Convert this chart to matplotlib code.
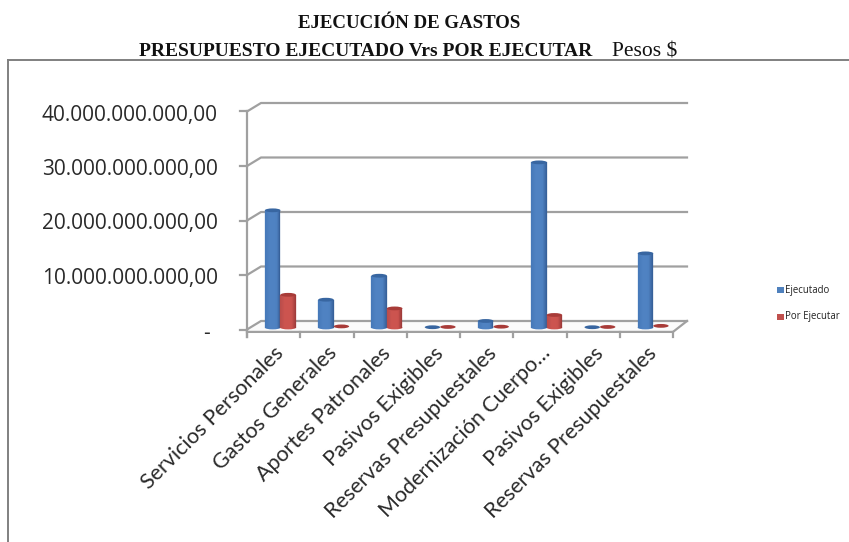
import matplotlib
matplotlib.use('Agg')
import matplotlib.pyplot as plt
from matplotlib.patches import Ellipse, Rectangle, Polygon
import numpy as np

categorias = ['Servicios Personales', 'Gastos Generales', 'Aportes Patronales',
              'Pasivos Exigibles', 'Reservas Presupuestales',
              'Modernización Cuerpo…', 'Pasivos Exigibles', 'Reservas Presupuestales']
ejecutado = [21.5e9, 5.1e9, 9.5e9, 0.05e9, 1.2e9, 30.3e9, 0.05e9, 13.6e9]
por_ejecutar = [6.0e9, 0.2e9, 3.5e9, 0.1e9, 0.15e9, 2.3e9, 0.1e9, 0.3e9]
ticks_y = [0, 10e9, 20e9, 30e9, 40e9]
labels_y = ['-', '10.000.000.000,00', '20.000.000.000,00', '30.000.000.000,00', '40.000.000.000,00']

W, H = 849, 542
GRIS = '#a0a0a0'

fig = plt.figure(figsize=(W / 100, H / 100), dpi=100)


def px(x, y):
    return x / W, 1 - y / H


# marco exterior del grafico
fig.add_artist(plt.Line2D([8 / W, 8 / W], [0, px(0, 60)[1]], color='#808080', lw=1.4))
fig.add_artist(plt.Line2D([8 / W, 1], [px(0, 60)[1]] * 2, color='#808080', lw=1.4))

# titulos
fig.text(409 / W, px(0, 24)[1], 'EJECUCIÓN DE GASTOS', family='Liberation Serif', weight='bold',
         fontsize=13.6, color='#111111', ha='center', va='center')
fig.text(139 / W, px(0, 52)[1], 'PRESUPUESTO EJECUTADO Vrs POR EJECUTAR', family='Liberation Serif',
         weight='bold', fontsize=14, color='#111111', ha='left', va='center')
fig.text(612 / W, px(0, 52)[1], 'Pesos $', family='Liberation Serif', fontsize=15.5,
         color='#111111', ha='left', va='center')

# ejes: la cara frontal va de x=247 a 673 y de y=329.5 a 111.5 (pixeles)
ax = fig.add_axes([247 / W, 1 - 329.5 / H, (673 - 247) / W, 218 / H])
ax.set_xlim(0, 8)
ax.set_ylim(0, 40e9)
ax.axis('off')

dx = 14 / 53.25
dy = 1.56e9
un_px_x = 8 / 426
un_px_y = 40e9 / 218

# pared del fondo y piso
for t in ticks_y:
    ax.plot([0, dx, 8 + dx], [t, t + dy, t + dy], color=GRIS, lw=1.6, clip_on=False, zorder=1)
    ax.plot([-7 * un_px_x, 0], [t, t], color=GRIS, lw=1.6, clip_on=False, zorder=1)
ax.plot([0, 0], [-7 * un_px_y, 40e9], color=GRIS, lw=1.6, clip_on=False, zorder=1)
piso = -2.4 * un_px_y
ax.add_patch(Polygon([(0, piso), (dx, dy), (8 + dx, dy), (8, piso)], closed=True,
                     facecolor='#fbfbfb', edgecolor='none', zorder=0.5, clip_on=False))
ax.plot([0, 8, 8 + dx], [piso, piso, dy], color=GRIS, lw=1.6, clip_on=False, zorder=1)
for i in range(9):
    ax.plot([i, i], [piso, piso - 5 * un_px_y], color=GRIS, lw=1.6, clip_on=False, zorder=1)


def cilindro(x0, ancho, valor, oscuro, medio, claro, tapa):
    base = 2 * un_px_y
    h_elip = 3.8 * un_px_y
    if valor > 0.5e9:
        # franjas verticales para el sombreado del cilindro
        n = 16
        xs = np.linspace(x0, x0 + ancho, n + 1)
        for k in range(n):
            f = (k + 0.5) / n
            if f < 0.3:
                c = np.array(medio) + (np.array(claro) - np.array(medio)) * f / 0.3
            elif f < 0.7:
                c = np.array(claro)
            else:
                c = np.array(claro) + (np.array(oscuro) - np.array(claro)) * ((f - 0.7) / 0.3) ** 1.3
            ax.add_patch(Rectangle((xs[k], base), ancho / n, valor, facecolor=c, edgecolor=c,
                                   lw=0.2, zorder=3, clip_on=False))
        ax.add_patch(Ellipse((x0 + ancho / 2, base), ancho, h_elip, facecolor=claro, edgecolor='none',
                             zorder=2.9, clip_on=False))
    ax.add_patch(Ellipse((x0 + ancho / 2, base + valor), ancho, h_elip, facecolor=tapa, edgecolor='none',
                         zorder=4, clip_on=False))


azul = [(0.27, 0.47, 0.72), (0.31, 0.51, 0.76), (0.20, 0.36, 0.58), (0.22, 0.40, 0.63)]
rojo = [(0.72, 0.30, 0.29), (0.80, 0.33, 0.31), (0.60, 0.22, 0.22), (0.66, 0.23, 0.22)]
for i in range(len(categorias)):
    cilindro(i + 0.338, 0.29, ejecutado[i], azul[2], azul[0], azul[1], azul[3])
    cilindro(i + 0.628, 0.29, por_ejecutar[i], rojo[2], rojo[0], rojo[1], rojo[3])

# etiquetas de los ejes
for t, lab in zip(ticks_y, labels_y):
    # el guion del cero queda mas a la izquierda por el formato contable
    x_lab = -37 * un_px_x if lab == '-' else -29 * un_px_x
    ax.text(x_lab, t - 3.5 * un_px_y, lab, ha='right', va='center', family='Open Sans',
            fontsize=15, color='#2a2a2a', clip_on=False)
for i, cat in enumerate(categorias):
    ax.text(i + 0.5, piso - 11 * un_px_y, cat, rotation=45, rotation_mode='anchor', ha='right', va='top',
            family='Lato', fontsize=15.5, color='#2a2a2a', clip_on=False)

# leyenda
for y, color, lab in [(290, '#4f81bd', 'Ejecutado'), (317, '#c0504d', 'Por Ejecutar')]:
    fig.add_artist(Rectangle((777 / W, px(0, y + 3)[1]), 7 / W, 6 / H, transform=fig.transFigure,
                             facecolor=color, edgecolor='none'))
    fig.text(785 / W, px(0, y)[1], lab, family='Open Sans', fontsize=6.9, color='#222222', va='center', ha='left')

fig.savefig('out.png', dpi=100)
